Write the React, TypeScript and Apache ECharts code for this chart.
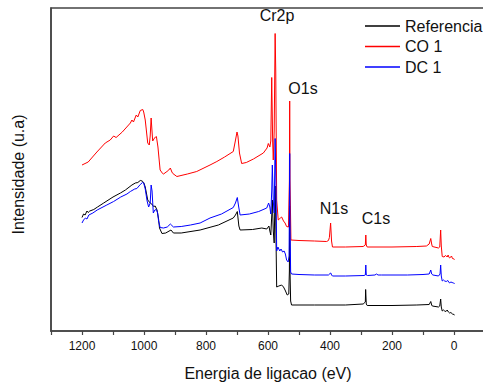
import React, { useEffect, useRef } from "react";
import * as echarts from "echarts";

const seriesNames = ["Referencia", "CO 1", "DC 1"];
const seriesColors = ["#000000", "#ff0000", "#0000ff"];
const xTickStep = 100;
const xLabelStep = 200;

const referencia: number[][] = [
  [1200,113.5],[1195,117],[1190,116],[1184,120],[1180,118.5],[1175,120],[1162,121.5],[1150,124],[1130,128],[1100,134],[1076,138],[1060,141],[1039,146],[1028,148],[1020,148.5],[1012,150.5],[1006,150],[1001,148.5],[996,144],[988,131],[980,128],[975,127],[969,124.5],[964,125],[958,121],[953,112],[950,103],[942,97.5],[930,98],[913,101],[905,98],[880,98],[819,101],[760,106],[712,113],[705,116],[699,119.5],[694,105],[690,101],[650,101.5],[620,103],[604,102],[597,105],[594,100],[591,96],[588,115],[586,131],[583,100],[580,88],[577,145],[575,110],[572,44],[565,45],[556,46],[550,44],[545,41],[538,36],[533,37],[531,60],[530,125],[529,60],[527,30],[524,26],[450,26],[350,26],[293,27],[286,29],[285,41.5],[283,27],[280,25.5],[200,25.5],[120,26],[80,26.5],[75,29.5],[72,26],[70,25],[50,24],[46,25],[43,32],[41,24],[38,20],[34,21],[30,20],[26,19.5],[22,21],[18,19],[14,18],[10,18.5],[5,17],[0,16.5],[-2,16]
];

const co1: number[][] = [
  [1200,166],[1180,169],[1152,179],[1125,188],[1109,191],[1098,195],[1090,193.5],[1070,199],[1044,208],[1039,211],[1034,209],[1025,216],[1020,214],[1012,220.5],[1004,221.5],[1001,219],[996,211],[988,188],[983,186],[980,195],[977,213],[972,190],[966,193],[963,194],[960,194.5],[955,184],[948,161],[940,157.5],[937,157],[926,159.5],[920,161],[915,163],[910,159],[907,157.5],[894,154.5],[860,157],[830,159.5],[787,166],[765,169.5],[740,174],[712,179.5],[706,189],[700,199],[697,195],[692,178],[685,167.5],[670,168.5],[647,172],[615,178],[603,183],[599,187.5],[594,184],[591,190],[588,253.5],[585,190],[583,171],[580,200],[577,297.5],[575,260],[572,131],[567,111],[560,113],[556,114],[550,110],[545,108],[540,104.5],[534,104],[531,150],[530,230],[529,150],[526,91],[500,90.5],[450,90],[411,89.5],[405,90.5],[402,93.5],[398,108],[397,108],[395,90],[392,84],[350,84],[293,84.5],[286,86],[284.5,96],[283,86],[280,84],[200,84],[120,84.5],[89,85],[80,87],[75,92.5],[72,87],[70,84.5],[50,83],[46,84],[43,101],[41,85],[38,74.5],[32,74],[28,75.5],[25,75],[22,74],[19,76],[16,73.5],[14,73],[11,74],[8,75],[5,72.5],[0,72],[-2,71.5]
];

const dc1: number[][] = [
  [1200,108],[1195,111],[1189,113],[1184,112],[1178,116],[1165,118],[1151,121],[1120,126],[1098,129.5],[1075,134],[1055,137],[1044,139.5],[1030,142],[1023,142.5],[1012,146.5],[1005,148.5],[1001,148],[996,142],[990,130],[985,124],[980,128],[977,146],[974,140],[970,118],[965,121],[960,121.5],[956,118],[953,110],[948,103.5],[937,103],[925,104],[915,107],[910,105.5],[905,104],[880,104.5],[850,106],[819,108],[787,113],[750,117],[712,123.5],[705,128],[699,133.5],[695,125],[690,116],[660,117],[630,119.5],[604,123],[598,128],[594,124],[591,117],[588,140],[586,166],[583,130],[580,118],[577,192.5],[574,140],[572,80],[568,84],[562,80],[558,82],[553,79],[548,80],[544,77],[540,71],[535,69],[532,75],[530.5,150],[530,177.5],[529,110],[527,59],[524,57],[500,56.5],[450,56],[405,56],[400,57.5],[397.5,58],[395,56],[392,55],[350,55],[290,55.5],[286,56],[284.5,66],[283,56],[279,55.5],[255,56],[250,57],[245,56],[234,56],[200,56],[150,56],[100,56.5],[80,57],[75,61],[72,57],[68,56],[50,55],[45,57],[43,66],[41,55],[38,50],[34,51],[30,50],[25,49.5],[20,50.5],[17,49],[14,48],[10,49],[6,48.5],[2,48],[-2,47.5]
];

const peakLabels = ["Cr2p", "O1s", "N1s", "C1s"];
const peakLabelPos = [[277, 15], [303, 88], [334, 208], [376, 218]];

const FONT = "'Liberation Sans', Arial, sans-serif";

export default function App() {
  const ref = useRef<HTMLDivElement>(null);
  useEffect(() => {
    if (!ref.current) return;
    const chart = echarts.init(ref.current, undefined, { renderer: "svg" });
    const data = [referencia, co1, dc1];
    chart.setOption({
      animation: false,
      textStyle: { fontFamily: FONT },
      grid: {
        left: 51, top: 8, width: 434, height: 323,
        containLabel: false,
        outerBoundsMode: "none",
        show: true, borderColor: "#444", borderWidth: 1.5,
      },
      legend: {
        orient: "vertical",
        left: 360, top: 13,
        itemWidth: 35, itemHeight: 1.5, itemGap: 4.5,
        icon: "rect",
        textStyle: { fontSize: 16, color: "#111", fontFamily: FONT },
        data: seriesNames,
      },
      xAxis: {
        type: "value",
        inverse: true,
        min: -100, max: 1300, interval: xTickStep,
        name: "Energia de ligacao (eV)",
        nameLocation: "middle",
        nameGap: 34,
        nameTextStyle: { fontSize: 16, color: "#111", fontFamily: FONT },
        axisLine: { show: true, onZero: false, lineStyle: { color: "#444", width: 1.5 } },
        axisTick: { show: true, length: 4, lineStyle: { color: "#444", width: 1.2 } },
        axisLabel: {
          margin: 9, fontSize: 12, color: "#111", fontFamily: FONT,
          formatter: (v: number) => (v >= 0 && v <= 1200 && v % xLabelStep === 0 ? String(v) : ""),
        },
        splitLine: { show: false },
      },
      yAxis: {
        type: "value",
        min: 0, max: 323,
        name: "Intensidade (u.a)",
        nameLocation: "middle",
        nameGap: 25,
        nameTextStyle: { fontSize: 16, color: "#111", fontFamily: FONT, padding: [0, 10, 0, 0] },
        axisLine: { show: true, onZero: false, lineStyle: { color: "#444", width: 1.5 } },
        axisTick: { show: false },
        axisLabel: { show: false },
        splitLine: { show: false },
      },
      graphic: peakLabels.map((t, i) => ({
        type: "text",
        x: peakLabelPos[i][0], y: peakLabelPos[i][1],
        style: {
          text: t, fontSize: 16, fill: "#111", fontFamily: FONT,
          textAlign: "center", textVerticalAlign: "middle",
        },
      })),
      series: seriesNames.map((n, i) => ({
        name: n,
        type: "line",
        data: data[i],
        showSymbol: false,
        symbol: "none",
        color: seriesColors[i],
        lineStyle: { color: seriesColors[i], width: 1 },
        z: 2 + i,
      })),
    });
    return () => chart.dispose();
  }, []);
  return <div ref={ref} style={{ position: "absolute", left: 0, top: 0, width: 483, height: 385 }} />;
}
